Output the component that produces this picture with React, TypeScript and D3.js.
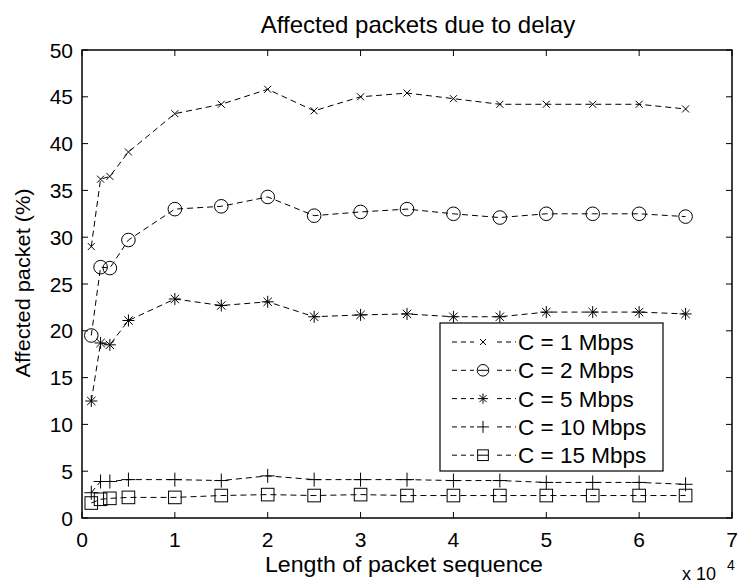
import * as d3 from "d3";

const xs = [1000, 2000, 3000, 5000, 10000, 15000, 20000, 25000, 30000, 35000, 40000, 45000, 50000, 55000, 60000, 65000];
const c1 = [29.0, 36.2, 36.5, 39.1, 43.2, 44.2, 45.8, 43.5, 45.0, 45.4, 44.8, 44.2, 44.2, 44.2, 44.2, 43.7];
const c2 = [19.5, 26.8, 26.7, 29.7, 33.0, 33.3, 34.3, 32.3, 32.7, 33.0, 32.5, 32.1, 32.5, 32.5, 32.5, 32.2];
const c5 = [12.5, 18.7, 18.5, 21.1, 23.4, 22.7, 23.1, 21.5, 21.7, 21.8, 21.5, 21.5, 22.0, 22.0, 22.0, 21.8];
const c10 = [2.7, 3.9, 3.9, 4.1, 4.1, 4.0, 4.5, 4.1, 4.1, 4.1, 4.0, 4.0, 3.8, 3.8, 3.8, 3.6];
const c15 = [1.6, 2.0, 2.1, 2.2, 2.2, 2.4, 2.5, 2.4, 2.5, 2.4, 2.4, 2.4, 2.4, 2.4, 2.4, 2.4];

const labels = ["C = 1 Mbps", "C = 2 Mbps", "C = 5 Mbps", "C = 10 Mbps", "C = 15 Mbps"];
const markers = ["x", "o", "*", "+", "s"];
const series = [c1, c2, c5, c10, c15];
const xTicks = [0, 1, 2, 3, 4, 5, 6, 7];
const yTicks = [0, 5, 10, 15, 20, 25, 30, 35, 40, 45, 50];

const margin = { top: 50, right: 6, bottom: 67, left: 82 };
const W = 738;
const H = 585;
const pw = W - margin.left - margin.right;
const ph = H - margin.top - margin.bottom;
const font = "Liberation Sans, Arial, sans-serif";

const Marker = ({ kind, x, y, small }: { kind: string; x: number; y: number; small?: boolean }) => {
  const st = { stroke: "#000", strokeWidth: 1, fill: "none" };
  const k = small ? 0.85 : 1;
  if (kind === "x") {
    const r = 3.5 * k;
    return <path d={`M${x - r},${y - r}L${x + r},${y + r}M${x - r},${y + r}L${x + r},${y - r}`} {...st} />;
  }
  if (kind === "o") return <circle cx={x} cy={y} r={6.8 * k} {...st} />;
  if (kind === "*") {
    const r = 6 * k, d = 4.2 * k;
    return <path d={`M${x - r},${y}L${x + r},${y}M${x},${y - r}L${x},${y + r}M${x - d},${y - d}L${x + d},${y + d}M${x - d},${y + d}L${x + d},${y - d}`} {...st} />;
  }
  if (kind === "+") {
    const r = 7 * k;
    return <path d={`M${x - r},${y}L${x + r},${y}M${x},${y - r}L${x},${y + r}`} {...st} />;
  }
  const r = 6.3 * k;
  return <rect x={x - r} y={y - r} width={2 * r} height={2 * r} {...st} />;
};

export default function App() {
  const x = d3.scaleLinear().domain([0, 7]).range([0, pw]);
  const y = d3.scaleLinear().domain([0, 50]).range([ph, 0]);
  const line = d3
    .line<number>()
    .x((_, i) => x(xs[i] / 10000))
    .y((d) => y(d));

  const lx = 440 - margin.left;
  const ly = 323 - margin.top;

  return (
    <svg width={W} height={H} style={{ position: "absolute", left: 0, top: 0, background: "#fff" }} fontFamily={font}>
      <text x={418} y={33} textAnchor="middle" fontSize={24}>
        Affected packets due to delay
      </text>
      <g transform={`translate(${margin.left},${margin.top})`}>
        {series.map((s, k) => (
          <g key={k}>
            <path d={line(s)!} fill="none" stroke="#000" strokeWidth={1} strokeDasharray="6,4" />
            {s.map((v, i) => (
              <Marker key={i} kind={markers[k]} x={x(xs[i] / 10000)} y={y(v)} />
            ))}
          </g>
        ))}
        <rect x={0} y={0} width={pw} height={ph} fill="none" stroke="#000" strokeWidth={1.5} />
        {xTicks.map((t) => (
          <g key={t}>
            <line x1={x(t)} x2={x(t)} y1={ph} y2={ph - 6} stroke="#000" />
            <line x1={x(t)} x2={x(t)} y1={0} y2={6} stroke="#000" />
            <text x={x(t)} y={ph + 29} textAnchor="middle" fontSize={21}>{t}</text>
          </g>
        ))}
        {yTicks.map((t) => (
          <g key={t}>
            <line x1={0} x2={6} y1={y(t)} y2={y(t)} stroke="#000" />
            <line x1={pw} x2={pw - 6} y1={y(t)} y2={y(t)} stroke="#000" />
            <text x={-9} y={y(t) + 7.5} textAnchor="end" fontSize={21}>{t}</text>
          </g>
        ))}
        <rect x={lx} y={ly} width={223} height={148} fill="#fff" stroke="#000" strokeWidth={1.2} />
        {labels.map((l, k) => {
          const yy = ly + 19 + k * 28.3;
          return (
            <g key={l}>
              <line x1={lx + 12} x2={lx + 76} y1={yy} y2={yy} stroke="#000" strokeDasharray="5,4" />
              <rect x={lx + 34} y={yy - 8} width={20} height={16} fill="#fff" />
              <Marker kind={markers[k]} x={lx + 43} y={yy} small />
              {markers[k] === "o" || markers[k] === "s" ? (
                <line x1={lx + 38} x2={lx + 48} y1={yy} y2={yy} stroke="#000" />
              ) : null}
              <text x={lx + 78} y={yy + 8} fontSize={22.5}>{l}</text>
            </g>
          );
        })}
      </g>
      <text x={404} y={572} textAnchor="middle" fontSize={22} textLength={278} lengthAdjust="spacingAndGlyphs">
        Length of packet sequence
      </text>
      <text transform={`translate(30,283) rotate(-90)`} textAnchor="middle" fontSize={21} textLength={189} lengthAdjust="spacingAndGlyphs">
        Affected packet (%)
      </text>
      <text x={682} y={580} fontSize={18}>x 10</text>
      <text x={727} y={570} fontSize={14}>4</text>
    </svg>
  );
}
